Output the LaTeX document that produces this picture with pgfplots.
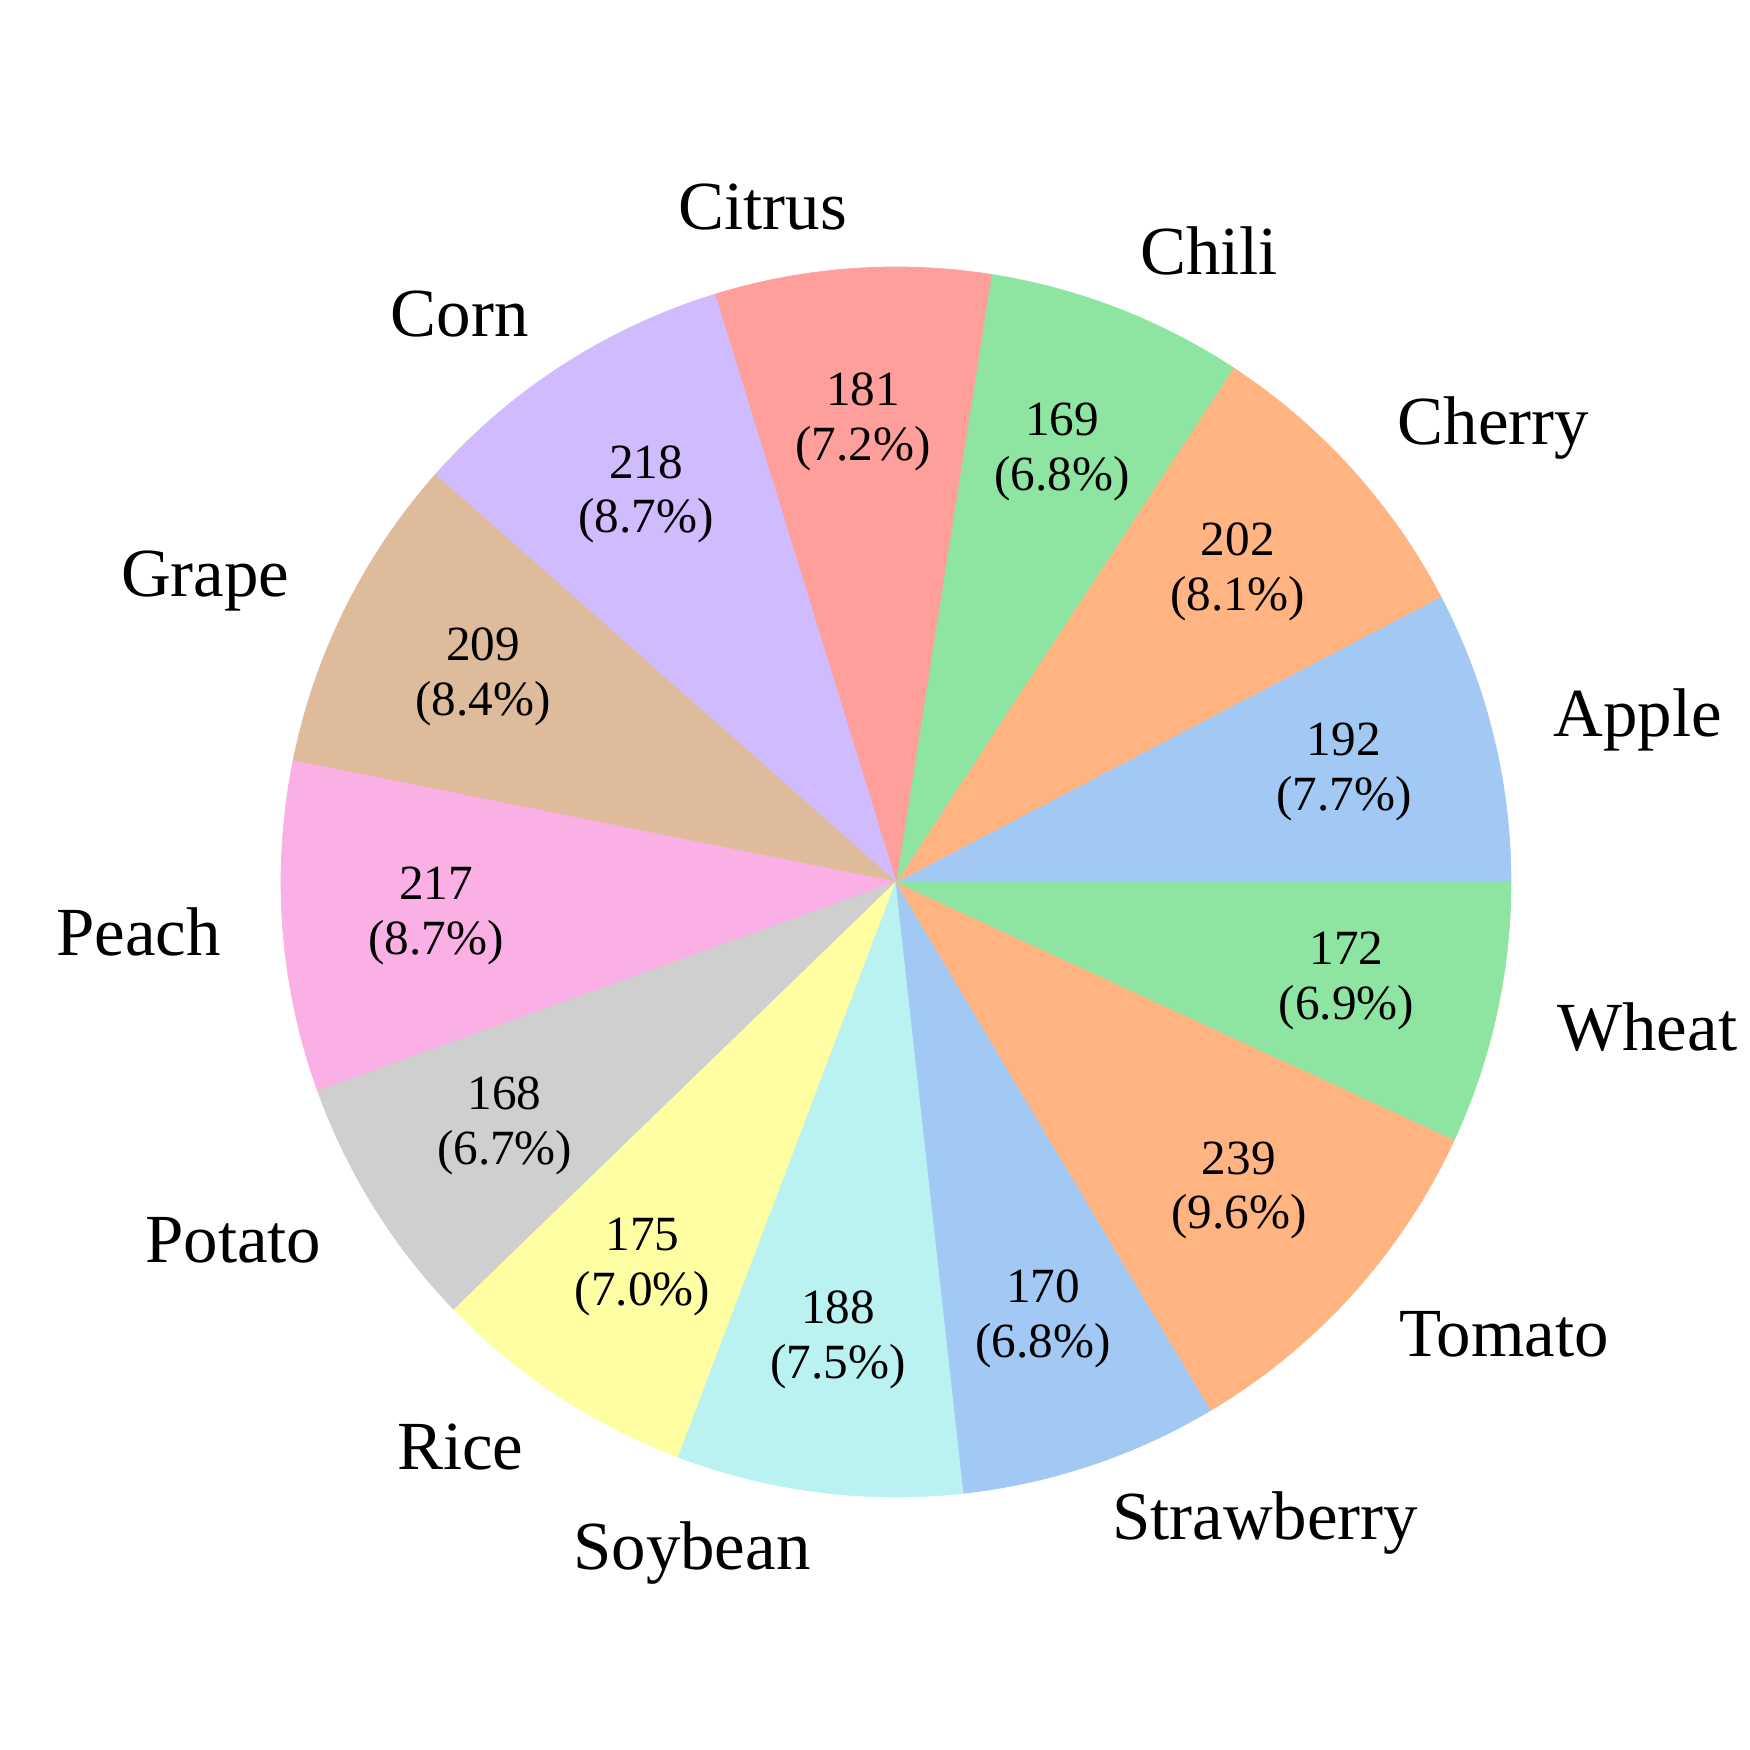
\documentclass[border=0pt]{standalone}
\usepackage{fontspec}
\setmainfont{Liberation Serif}
\usepackage{pgfplots}
\pgfplotsset{compat=1.18}
\definecolor{pBlue}{HTML}{A1C9F4}
\definecolor{pOrange}{HTML}{FFB482}
\definecolor{pGreen}{HTML}{8DE5A1}
\definecolor{pRed}{HTML}{FF9F9B}
\definecolor{pPurple}{HTML}{D0BBFF}
\definecolor{pBrown}{HTML}{DEBB9B}
\definecolor{pPink}{HTML}{FAB0E4}
\definecolor{pGray}{HTML}{CFCFCF}
\definecolor{pYellow}{HTML}{FFFEA3}
\definecolor{pCyan}{HTML}{B9F2F0}
\newcommand\total{2500}
\newcommand\R{615}
\newcommand\slice[3]{%
  \pgfmathsetmacro\sA{\cum/\total*360}%
  \pgfmathsetmacro\sB{(\cum+#1)/\total*360}%
  \pgfmathsetmacro\sM{(\sA+\sB)/2}%
  \pgfmathsetmacro\px{0.75*\R*cos(\sM)}%
  \pgfmathsetmacro\py{0.75*\R*sin(\sM)}%
  \pgfmathsetmacro\lx{1.1*\R*cos(\sM)}%
  \pgfmathsetmacro\ly{1.1*\R*sin(\sM)}%
  \pgfmathtruncatemacro\pT{round(#1/\total*1000)}%
  \pgfmathtruncatemacro\pI{floor(\pT/10)}%
  \pgfmathtruncatemacro\pD{\pT-10*\pI}%
  \ifdim\lx pt>0pt \def\anc{west}\else\def\anc{east}\fi
  \edef\doit{%
    \noexpand\addplot[fill=#3, draw=#3, line width=0.2pt, domain=\sA:\sB, samples=90] ({\R*cos(x)},{\R*sin(x)}) -- (axis cs:0,0) -- cycle;%
    \noexpand\node[pctlab] at (axis cs:\px,\py) {#1\noexpand\\(\pI.\pD\noexpand\%)};%
    \noexpand\node[namelab, anchor=\anc] at (axis cs:\lx,\ly) {#2};%
  }\doit
  \pgfmathsetmacro\cum{\cum+#1}%
}
\begin{document}
\begin{tikzpicture}[
  pctlab/.style={font=\fontsize{14}{15.6}\selectfont, align=center, inner sep=0pt},
  namelab/.style={font=\fontsize{19.6}{23}\selectfont, inner sep=0pt}]
\begin{axis}[hide axis, scale only axis, x=0.1mm, y=0.1mm,
  xmin=-896, xmax=854, ymin=-868, ymax=882, clip=false]
\pgfmathsetmacro\cum{0}
\slice{192}{Apple}{pBlue}
\slice{202}{Cherry}{pOrange}
\slice{169}{Chili}{pGreen}
\slice{181}{Citrus}{pRed}
\slice{218}{Corn}{pPurple}
\slice{209}{Grape}{pBrown}
\slice{217}{Peach}{pPink}
\slice{168}{Potato}{pGray}
\slice{175}{Rice}{pYellow}
\slice{188}{Soybean}{pCyan}
\slice{170}{Strawberry}{pBlue}
\slice{239}{Tomato}{pOrange}
\slice{172}{Wheat}{pGreen}
\path (axis cs:-896,-868) rectangle (axis cs:854,882);
\end{axis}
\end{tikzpicture}
\end{document}
